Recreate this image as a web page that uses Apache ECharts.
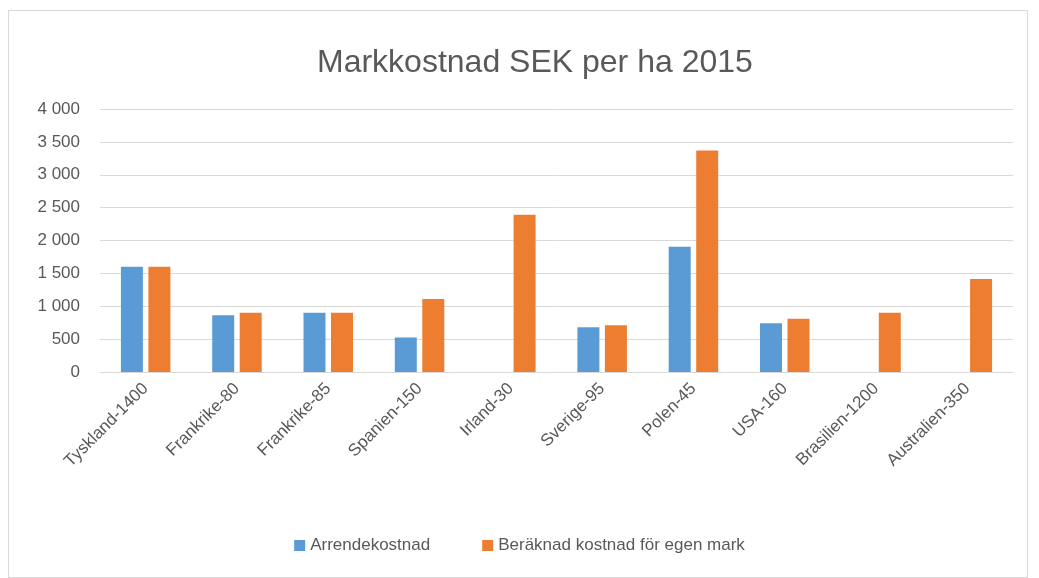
<!DOCTYPE html>
<html>
<head>
<meta charset="utf-8">
<script src="https://cdn.jsdelivr.net/npm/echarts@6/dist/echarts.min.js"></script>
<style>
    html, body { margin: 0; padding: 0; background: #fff; }
    #wrap { position: absolute; left: 8px; top: 10px; width: 1018px; height: 566px; border: 1px solid #d9d9d9; }
    #p1 { width: 1039px; height: 578px; position: absolute; left: 0; top: 0; }
</style>
</head>
<body>
<div id="wrap"></div>
<div id="p1"></div>
<script>
var categories = ["Tyskland-1400","Frankrike-80","Frankrike-85","Spanien-150","Irland-30","Sverige-95","Polen-45","USA-160","Brasilien-1200","Australien-350"];
var arrende = [1600, 865, 900, 525, null, 680, 1905, 740, null, null];
var beraknad = [1600, 900, 900, 1110, 2390, 710, 3370, 810, 900, 1415];

var myChart1 = echarts.init(document.getElementById("p1"));
var option1 = {
    textStyle: { fontFamily: 'Liberation Sans' },
    title: {
        text: 'Markkostnad SEK per ha 2015',
        left: 312,
        top: 42,
        textStyle: {
            color: '#595959',
            fontSize: 32,
            fontWeight: 'normal',
            fontFamily: 'Liberation Sans'
        }
    },
    legend: {
        data: ['Arrendekostnad', 'Beräknad kostnad för egen mark'],
        bottom: 19,
        left: 'center',
        itemWidth: 11,
        itemHeight: 11,
        itemGap: 52,
        icon: 'rect',
        textStyle: {
            color: '#595959',
            fontSize: 17
        }
    },
    grid: {
        left: 100,
        right: 26,
        top: 109,
        bottom: 206
    },
    xAxis: {
        type: 'category',
        data: categories,
        axisTick: { show: false },
        axisLine: { lineStyle: { color: '#d9d9d9' } },
        axisLabel: {
            interval: 0,
            rotate: 45,
            color: '#595959',
            fontSize: 17,
            margin: 14
        }
    },
    yAxis: {
        type: 'value',
        min: 0,
        max: 4000,
        interval: 500,
        axisLine: { show: false },
        axisTick: { show: false },
        splitLine: { lineStyle: { color: '#d9d9d9' } },
        axisLabel: {
            color: '#595959',
            fontSize: 17,
            margin: 20,
            formatter: function (v) {
                return String(v).replace(/\B(?=(\d{3})+(?!\d))/g, ' ');
            }
        }
    },
    series: [
        {
            name: 'Arrendekostnad',
            type: 'bar',
            data: arrende,
            barWidth: 22,
            barGap: '25%',
            itemStyle: { color: '#5B9BD5' }
        },
        {
            name: 'Beräknad kostnad för egen mark',
            type: 'bar',
            data: beraknad,
            barWidth: 22,
            itemStyle: { color: '#ED7D31' }
        }
    ]
};
myChart1.setOption(option1);
</script>
</body>
</html>
